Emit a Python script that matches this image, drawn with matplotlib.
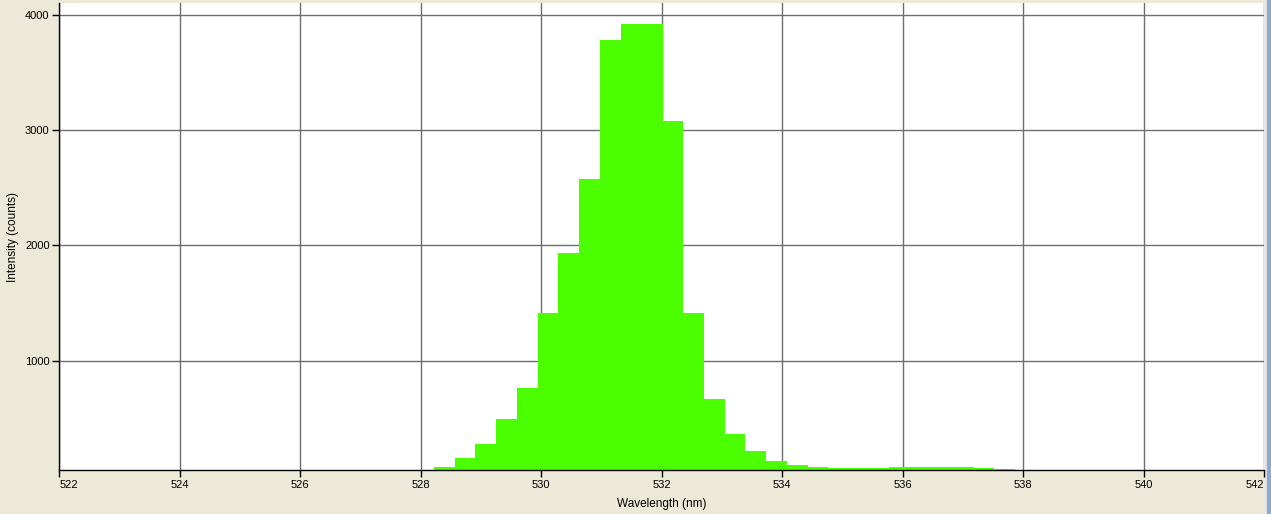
import matplotlib
matplotlib.use("Agg")
import matplotlib.pyplot as plt
from matplotlib.patches import Rectangle

# Bin centres (nm) and intensities (counts)
wavelength = [528.39, 528.74, 529.08, 529.42, 529.77, 530.11, 530.45, 530.80,
              531.14, 531.49, 531.83, 532.17, 532.52, 532.86, 533.20, 533.55,
              533.89, 534.24, 534.58, 534.92, 535.27, 535.61, 535.95, 536.30,
              536.64, 536.99, 537.33, 537.67]
intensity = [75, 155, 277, 494, 763, 1412, 1937, 2577,
             3783, 3922, 3925, 3081, 1416, 667, 364, 217,
             129, 95, 77, 69, 69, 69, 77, 77,
             77, 77, 69, 60]
bin_width = 0.3436

x_ticks = [522, 524, 526, 528, 530, 532, 534, 536, 538, 540, 542]
y_ticks = [1000, 2000, 3000, 4000]

plt.rcParams['font.family'] = ['Liberation Sans', 'DejaVu Sans']

bg = '#ECE9D8'
fig = plt.figure(figsize=(12.71, 5.14), dpi=100, facecolor=bg)
ax = fig.add_axes([59.4 / 1271, 44 / 514, (1264 - 59.4) / 1271, (470 - 3) / 514])
ax.set_facecolor('white')

ax.bar(wavelength, intensity, width=bin_width, color='#4CFF00', edgecolor='#4CFF00',
       linewidth=0.6, antialiased=False, zorder=3)

ax.set_xlim(522, 542)
ax.set_ylim(51, 4104)
ax.set_xticks(x_ticks)
ax.set_xticklabels([str(t) for t in x_ticks])
ax.set_yticks(y_ticks)
ax.set_yticklabels([str(t) for t in y_ticks])

ax.set_axisbelow(True)
ax.grid(True, color='#6E6E6E', linewidth=1.0, zorder=1)

for s in ['top', 'right']:
    ax.spines[s].set_visible(False)
for s in ['left', 'bottom']:
    ax.spines[s].set_color('black')
    ax.spines[s].set_linewidth(1.0)
    ax.spines[s].set_zorder(4)

ax.tick_params(axis='both', direction='out', length=5, width=1, color='black',
               labelsize=8, labelcolor='black', pad=2)

xl = ax.get_xticklabels()
xl[0].set_horizontalalignment('left')
xl[-1].set_horizontalalignment('right')

ax.set_xlabel('Wavelength (nm)', fontsize=8.5, labelpad=6)
ax.set_ylabel('Intensity (counts)', fontsize=8.5, labelpad=4)

# window border at right edge
fig.patches.append(Rectangle((1267 / 1271, 0), 4 / 1271, 1, transform=fig.transFigure,
                             facecolor='#8FAACB', edgecolor='none', zorder=0))
fig.patches.append(Rectangle((1266 / 1271, 0), 1 / 1271, 1, transform=fig.transFigure,
                             facecolor='#D6DFEA', edgecolor='none', zorder=0))

fig.savefig('out.png', dpi=100, facecolor=bg)
